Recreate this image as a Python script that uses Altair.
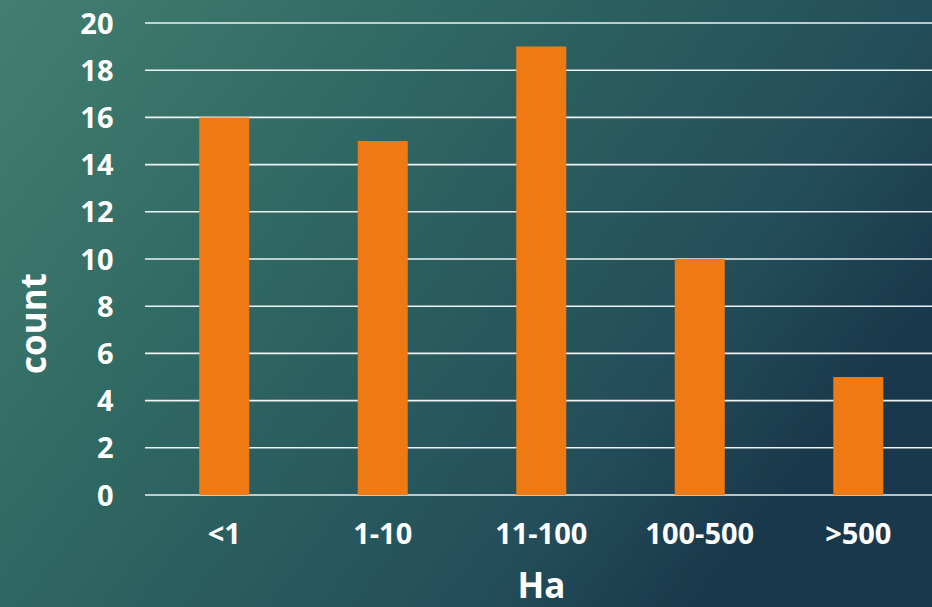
import altair as alt
import pandas as pd

# Farm size classes (hectares) and number of holdings in each
size_classes = ["<1", "1-10", "11-100", "100-500", ">500"]
counts = [16, 15, 19, 10, 5]
y_ticks = [0, 2, 4, 6, 8, 10, 12, 14, 16, 18, 20]

W, H = 787, 472
PAD = {"left": 145, "top": 23, "right": 0, "bottom": 112}
FONT = "Open Sans"
WEIGHT = 700

bars_df = pd.DataFrame({"size": size_classes, "count": counts})
grid_df = pd.DataFrame({"v": y_ticks})
bg_df = pd.DataFrame({"k": [0]})

y_scale = alt.Scale(domain=[0, 20], nice=False)
y_axis = alt.Axis(
    values=y_ticks, grid=False, domain=False, ticks=False,
    labelFont=FONT, labelFontSize=29, labelFontWeight=WEIGHT, labelColor="white",
    labelPadding=32, labelBaseline="middle", labelOffset=1,
    title="count", titleFont=FONT, titleFontSize=35, titleFontWeight=WEIGHT,
    titleColor="white", titleAngle=270, titleX=-100, titleY=300,
    titleAlign="center", titleBaseline="alphabetic", zindex=1,
)

# gradient backdrop spanning the whole canvas
background = alt.Chart(bg_df).mark_rect(
    fill={
        "gradient": "linear", "x1": 0, "y1": 0, "x2": 1, "y2": 0.5,
        "stops": [
            {"offset": 0.0, "color": "#427f70"},
            {"offset": 0.4, "color": "#2f6762"},
            {"offset": 0.8, "color": "#244e5a"},
            {"offset": 1.0, "color": "#1a384b"},
        ],
    }
).encode(
    x=alt.value(-PAD["left"]), x2=alt.value(W),
    y=alt.value(-PAD["top"]), y2=alt.value(H + PAD["bottom"]),
)

gridlines = alt.Chart(grid_df).mark_rule(color="#eef2f2", strokeWidth=1.6).encode(
    y=alt.Y("v:Q", scale=y_scale, axis=y_axis),
    x=alt.value(0), x2=alt.value(W),
)

bars = alt.Chart(bars_df).mark_bar(color="#ef7a14").encode(
    x=alt.X(
        "size:N", sort=size_classes,
        scale=alt.Scale(range=[0, 792.5], paddingInner=0.6845, paddingOuter=0.342),
        axis=alt.Axis(
            domain=False, ticks=False, grid=False, labelAngle=0,
            labelFont=FONT, labelFontSize=29, labelFontWeight=WEIGHT, labelColor="white",
            labelPadding=25,
            title="Ha", titleFont=FONT, titleFontSize=35, titleFontWeight=WEIGHT,
            titleColor="white", titleX=396, titleY=102, titleAlign="center",
            titleBaseline="alphabetic", zindex=1,
        ),
    ),
    y=alt.Y("count:Q", scale=y_scale, axis=y_axis),
)

chart = alt.layer(background, gridlines, bars).properties(
    width=W, height=H,
    autosize=alt.AutoSizeParams(type="none"),
    padding=PAD,
).configure_view(stroke=None)

chart.save("out.html", embed_options={"renderer": "svg", "actions": False})
